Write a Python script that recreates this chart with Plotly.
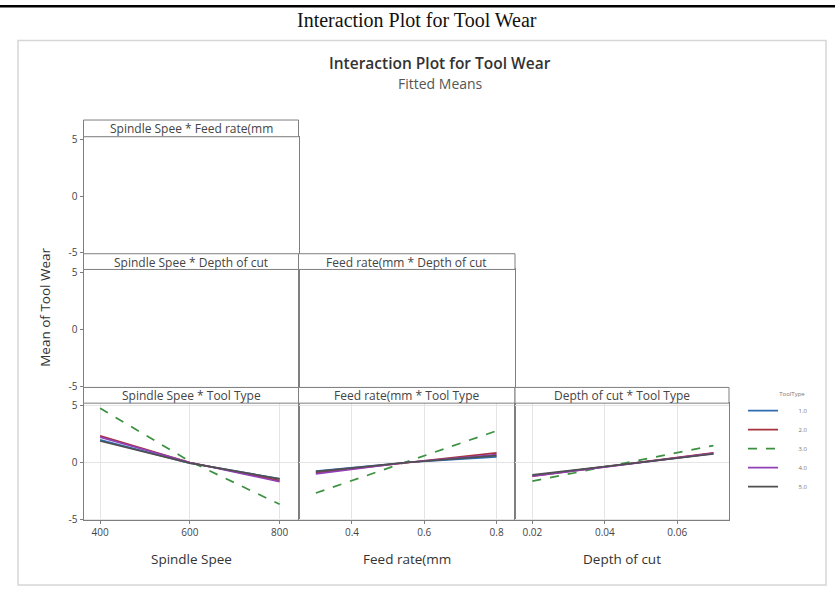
import plotly.graph_objects as go

W, H = 835, 592

# ---------------- data ----------------
tool_types = ["1.0", "2.0", "3.0", "4.0", "5.0"]
tool_colors = ["#2F6DB0", "#A8323E", "#3C9141", "#9140B5", "#505050"]
tool_dash = ["solid", "solid", "dash", "solid", "solid"]

speed_levels = [400, 600, 800]
feed_levels = [0.3, 0.55, 0.8]
depth_levels = [0.02, 0.045, 0.07]

# fitted means of Tool Wear, one row per tool type
speed_means = [
    [2.0, -0.05, -1.45],
    [2.35, 0.0, -1.6],
    [4.8, 0.1, -3.7],
    [2.25, 0.0, -1.7],
    [1.9, -0.05, -1.45],
]
feed_means = [
    [-0.75, 0.0, 0.5],
    [-0.9, -0.05, 0.85],
    [-2.7, 0.05, 2.8],
    [-1.0, 0.0, 0.7],
    [-0.8, 0.0, 0.6],
]
depth_means = [
    [-1.15, -0.2, 0.8],
    [-1.2, -0.2, 0.85],
    [-1.65, -0.1, 1.5],
    [-1.2, -0.2, 0.8],
    [-1.1, -0.2, 0.75],
]

speed_ticks = [400, 600, 800]
feed_ticks = [0.4, 0.6, 0.8]
depth_ticks = [0.02, 0.04, 0.06]
y_ticks = [-5, 0, 5]

factor_names = ["Spindle Spee", "Feed rate(mm", "Depth of cut"]

# ---------------- layout helpers (pixel coords -> paper) ----------------
def X(px):
    return px / W

def Y(py):
    return 1 - py / H

col_px = [(83.5, 298.5), (298.5, 515.0), (515.0, 729.0)]
# (strip top, plot top, plot bottom)
row_px = [(117.0, 134.0, 253.0), (253.0, 269.0, 389.0), (389.0, 405.0, 524.0)]
x_ranges = [[363, 842], [0.252, 0.851], [0.0152, 0.0743]]
y_range = [-5.1, 5.25]

FONT = "Open Sans, Noto Sans, sans-serif"
AXC = "#7f7f7f"
GRID = "#e4e4e4"
TICKC = "#444444"

fig = go.Figure()
layout = dict(
    width=W, height=H, autosize=False,
    margin=dict(l=0, r=0, t=0, b=0),
    paper_bgcolor="white", plot_bgcolor="white",
    font=dict(family=FONT, size=10, color=TICKC),
    showlegend=True,
)
shapes = []
annotations = []

# panels: (row, col, title)
panels = [
    (0, 0, "Spindle Spee * Feed rate(mm"),
    (1, 0, "Spindle Spee * Depth of cut"),
    (1, 1, "Feed rate(mm * Depth of cut"),
    (2, 0, "Spindle Spee * Tool Type"),
    (2, 1, "Feed rate(mm * Tool Type"),
    (2, 2, "Depth of cut * Tool Type"),
]
xticks_by_col = [speed_ticks, feed_ticks, depth_ticks]
xlabels_by_col = [[str(v) for v in speed_ticks], ["0.4", "0.6", "0.8"], ["0.02", "0.04", "0.06"]]
levels_by_col = [speed_levels, feed_levels, depth_levels]
means_by_col = [speed_means, feed_means, depth_means]

for i, (r, c, title) in enumerate(panels):
    n = i + 1
    xa = "xaxis" if n == 1 else f"xaxis{n}"
    ya = "yaxis" if n == 1 else f"yaxis{n}"
    xref = "x" if n == 1 else f"x{n}"
    yref = "y" if n == 1 else f"y{n}"
    x0p, x1p = col_px[c]
    st, pt, pb = row_px[r]
    has_data = (r == 2)
    layout[xa] = dict(
        domain=[X(x0p), X(x1p)], anchor=yref, range=x_ranges[c],
        showline=True, mirror=True, linecolor=AXC, linewidth=1,
        showgrid=has_data, gridcolor=GRID, gridwidth=1, zeroline=False,
        tickvals=xticks_by_col[c], ticktext=xlabels_by_col[c],
        showticklabels=has_data, ticks="outside" if has_data else "",
        ticklen=3, tickcolor=AXC,
        tickfont=dict(size=10, color=TICKC), fixedrange=True,
    )
    layout[ya] = dict(
        domain=[Y(pb), Y(pt)], anchor=xref, range=y_range,
        showline=True, mirror=True, linecolor=AXC, linewidth=1,
        showgrid=has_data, gridcolor=GRID, gridwidth=1, zeroline=False,
        tickvals=y_ticks, ticktext=["-5", "0", "5"],
        showticklabels=(c == 0), ticks="outside" if c == 0 else "",
        ticklen=3, tickcolor=AXC,
        tickfont=dict(size=10, color=TICKC), fixedrange=True,
    )
    # strip header
    shapes.append(dict(type="rect", xref="paper", yref="paper",
                       x0=X(x0p), x1=X(x1p), y0=Y(pt), y1=Y(st),
                       line=dict(color=AXC, width=1), fillcolor="white", layer="above"))
    annotations.append(dict(text=title, xref="paper", yref="paper",
                            x=X((x0p + x1p) / 2), y=Y((st + pt) / 2 + 0.5),
                            xanchor="center", yanchor="middle", showarrow=False,
                            font=dict(family=FONT, size=12, color="#444444")))
    if has_data:
        levels = levels_by_col[c]
        means = means_by_col[c]
        for k, name in enumerate(tool_types):
            fig.add_trace(go.Scatter(
                x=levels, y=means[k], mode="lines",
                line=dict(color=tool_colors[k], width=1.7, dash=tool_dash[k]),
                name="\u00a0" * 10 + name, legendgroup=name,
                showlegend=(c == 0), xaxis=xref, yaxis=yref,
                hoverinfo="skip",
            ))
    else:
        # empty panel – an empty trace keeps the axes drawn
        fig.add_trace(go.Scatter(x=[], y=[], mode="lines", showlegend=False,
                                 xaxis=xref, yaxis=yref, hoverinfo="skip"))

# x axis titles
for c, name in enumerate(factor_names):
    x0p, x1p = col_px[c]
    annotations.append(dict(text=name, xref="paper", yref="paper",
                            x=X((x0p + x1p) / 2), y=Y(564), xanchor="center", yanchor="middle",
                            showarrow=False, font=dict(family=FONT, size=13.5, color="#333333")))
# y axis title
annotations.append(dict(text="Mean of Tool Wear", xref="paper", yref="paper",
                        x=X(45), y=Y(308), xanchor="center", yanchor="middle", textangle=-90,
                        showarrow=False, font=dict(family=FONT, size=13.5, color="#333333")))
# titles
annotations.append(dict(text="Interaction Plot for Tool Wear", xref="paper", yref="paper",
                        x=X(417), y=Y(15), xanchor="center", yanchor="middle", showarrow=False,
                        font=dict(family="Liberation Serif, serif", size=20, color="#111111")))
annotations.append(dict(text="Interaction Plot for Tool Wear", xref="paper", yref="paper",
                        x=X(440), y=Y(59), xanchor="center", yanchor="middle", showarrow=False,
                        font=dict(family=FONT, size=15.5, color="#333333", weight=600)))
annotations.append(dict(text="Fitted Means", xref="paper", yref="paper",
                        x=X(440), y=Y(80), xanchor="center", yanchor="middle", showarrow=False,
                        font=dict(family=FONT, size=14, color="#555555")))

# frame and top rule
shapes.append(dict(type="rect", xref="paper", yref="paper",
                   x0=X(18), x1=X(826), y0=Y(590), y1=Y(36),
                   line=dict(color="#d6d6d6", width=1.5), fillcolor="rgba(0,0,0,0)", layer="below"))
shapes.append(dict(type="line", xref="paper", yref="paper",
                   x0=0, x1=1, y0=Y(1.2), y1=Y(1.2), line=dict(color="black", width=2.5)))

layout["shapes"] = shapes
layout["annotations"] = annotations
layout["legend"] = dict(
    x=X(743), y=Y(390), xanchor="left", yanchor="top",
    bgcolor="rgba(0,0,0,0)", borderwidth=0,
    font=dict(family=FONT, size=6, color="#777777"),
    title=dict(text="\u00a0" * 22 + "ToolType", font=dict(family=FONT, size=6, color="#777777")),
    itemwidth=30, tracegroupgap=0,
)
fig.update_layout(**layout)

# remove the default 8px body margin so the figure fills the 835x592 window exactly
fig.write_html("out.html", config={"displayModeBar": False},
               post_script="document.body.style.margin='0';")
